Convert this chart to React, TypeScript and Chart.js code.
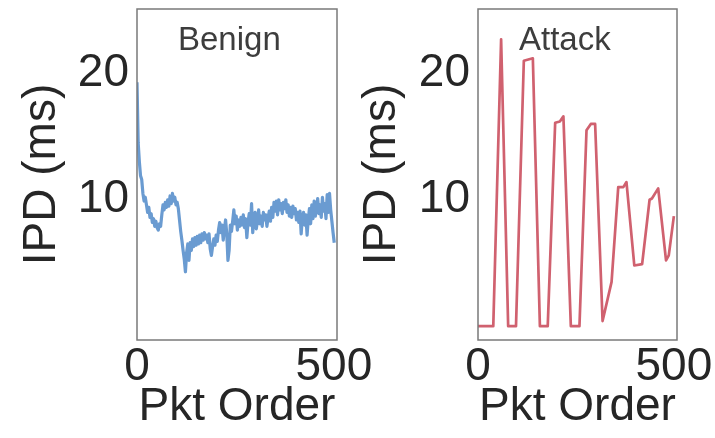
import React, { useEffect, useRef } from 'react';
import { Chart, registerables } from 'chart.js';
Chart.register(...registerables);

const FONT = 'Arial, "Liberation Sans", Helvetica, sans-serif';

const panelTitles = ['Benign', 'Attack'];
const xTitle = 'Pkt Order';
const yTitle = 'IPD (ms)';
const xTicks = [0, 500];
const yTicks = [10, 20];
const xMin = 0;
const xMax = 508;
const yMin = -1.1;
const yMax = 25.1;

// Benign: IPD sampled every 3 packets (pkt order 0, 3, 6, ... 501)
const benignStep = 3;
const benignIpd = [
  19.3, 14.5, 13.0, 11.9, 11.6, 10.5, 9.9, 10.2,
  9.6, 9.0, 9.4, 8.6, 8.9, 8.2, 8.5, 7.9, 8.3, 7.8, 7.6, 8.1, 7.9,
  8.8, 9.6, 9.2, 9.8, 9.4, 10.0, 9.5, 10.3, 9.7, 10.5, 9.9, 10.2, 9.6, 9.8, 9.3,
  8.4, 7.5, 6.8, 6.0, 5.3, 4.3, 5.8, 6.5, 5.2, 6.6, 6.0, 6.9, 6.3, 7.0, 6.4, 7.1, 6.5, 7.2, 6.6, 7.3, 6.8, 7.4, 6.9, 7.2, 6.6, 7.3, 6.1, 5.6, 6.3, 6.9, 6.4, 7.2, 6.7,
  7.6, 8.2, 7.4, 8.0, 6.8, 7.7, 8.4, 7.3, 5.2, 6.0, 8.0, 7.5,
  8.3, 9.2, 8.1, 8.7, 7.6, 8.4, 7.9, 8.6, 8.0, 8.8, 7.8, 8.5, 7.0, 8.2, 8.9, 8.0, 9.7, 7.4, 8.6, 9.0, 7.7, 8.3, 9.2, 8.1, 8.7, 7.9, 9.0, 8.4, 8.8, 7.9, 8.6, 9.1, 8.3,
  9.4, 8.6, 9.8, 9.1, 9.9, 8.8, 10.0, 9.2, 9.7, 8.9, 9.8, 9.3, 10.0, 9.0, 9.6, 8.7, 9.4, 8.6, 9.5, 8.9, 9.3, 8.4, 9.0,
  8.2, 9.1, 7.3, 8.6, 9.0, 8.0, 8.8, 7.2, 8.4, 9.3, 8.1,
  9.6, 8.5, 9.9, 8.7, 9.4, 10.1, 8.9, 9.6, 8.6, 10.2, 9.1, 9.7, 8.5, 10.4, 9.0, 10.5,
  9.2, 8.3, 7.4, 6.6,
];

// Attack: vertices of the polyline
const attackOrder = [0, 39, 59, 77, 97, 117, 140, 158, 178, 197, 209, 218, 237, 259, 277, 288, 299, 318, 341, 358, 371, 379, 399, 419, 438, 444, 460, 480, 487, 500];
const attackIpd = [0, 0, 22.7, 0, 0, 21.0, 21.2, 0, 0, 16.1, 16.2, 16.6, 0, 0, 15.5, 16.0, 16.0, 0.4, 3.5, 11.0, 11.0, 11.4, 4.8, 4.9, 10.0, 10.1, 10.9, 5.2, 5.6, 8.7];

const benignColor = '#6a9bd1';
const attackColor = '#d0616f';

const framePlugin = {
  id: 'frame',
  afterDraw(chart: any, _args: any, opts: any) {
    const { ctx, chartArea: a } = chart;
    ctx.save();
    ctx.strokeStyle = '#7a7a7a';
    ctx.lineWidth = 1.5;
    ctx.strokeRect(a.left, a.top, a.right - a.left, a.bottom - a.top);
    ctx.font = `33px ${FONT}`;
    ctx.fillStyle = '#3d3d3d';
    ctx.textAlign = 'left';
    ctx.textBaseline = 'alphabetic';
    ctx.fillText(opts.label, a.left + 41, 50);
    ctx.restore();
  },
};

function makeChart(canvas: HTMLCanvasElement, points: { x: number; y: number }[], color: string, width: number, label: string, yAxisWidth: number, padRight: number) {
  const tickFont = { family: FONT, size: 46 };
  return new Chart(canvas, {
    type: 'line',
    data: {
      datasets: [
        {
          data: points,
          borderColor: color,
          borderWidth: width,
          pointRadius: 0,
          tension: 0,
          fill: false,
          borderJoinStyle: 'round',
        },
      ],
    },
    options: {
      responsive: false,
      animation: false,
      events: [],
      layout: { padding: { top: 9, right: padRight, left: 0, bottom: 0 } },
      plugins: {
        legend: { display: false },
        tooltip: { enabled: false },
        frame: { label },
      } as any,
      scales: {
        x: {
          type: 'linear',
          min: xMin,
          max: xMax,
          afterBuildTicks: (s: any) => {
            s.ticks = xTicks.map((v) => ({ value: v }));
          },
          afterFit: (s: any) => {
            s.height = 98;
            s.paddingLeft = 0;
            s.paddingRight = 0;
          },
          grid: { display: false, drawTicks: false },
          border: { display: false },
          ticks: { color: '#262626', font: tickFont, padding: 0, maxRotation: 0, autoSkip: false },
          title: { display: true, text: xTitle, color: '#262626', font: tickFont, padding: { top: 0, bottom: 3 } },
        },
        y: {
          type: 'linear',
          min: yMin,
          max: yMax,
          afterBuildTicks: (s: any) => {
            s.ticks = yTicks.map((v) => ({ value: v }));
          },
          afterFit: (s: any) => {
            s.width = yAxisWidth;
            s.paddingTop = 0;
            s.paddingBottom = 0;
          },
          grid: { display: false, drawTicks: false },
          border: { display: false },
          ticks: { color: '#262626', font: tickFont, padding: 8 },
          title: { display: true, text: yTitle, color: '#262626', font: tickFont, padding: { top: 15, bottom: 0 } },
        },
      },
    },
    plugins: [framePlugin],
  } as any);
}

export default function App() {
  const leftRef = useRef<HTMLCanvasElement>(null);
  const rightRef = useRef<HTMLCanvasElement>(null);

  useEffect(() => {
    const benignPoints = benignIpd.map((v, i) => ({ x: i * benignStep, y: v }));
    const attackPoints = attackOrder.map((x, i) => ({ x, y: attackIpd[i] }));
    const c1 = makeChart(leftRef.current!, benignPoints, benignColor, 3.2, panelTitles[0], 137, 83);
    const c2 = makeChart(rightRef.current!, attackPoints, attackColor, 2.7, panelTitles[1], 138, 43);
    return () => {
      c1.destroy();
      c2.destroy();
    };
  }, []);

  return (
    <div style={{ position: 'fixed', left: 0, top: 0, width: 715, height: 438, overflow: 'hidden', background: '#fff' }}>
      <canvas ref={leftRef} width={420} height={438} style={{ position: 'absolute', left: 0, top: 0, width: 420, height: 438 }} />
      <canvas ref={rightRef} width={380} height={438} style={{ position: 'absolute', left: 340, top: 0, width: 380, height: 438 }} />
    </div>
  );
}
